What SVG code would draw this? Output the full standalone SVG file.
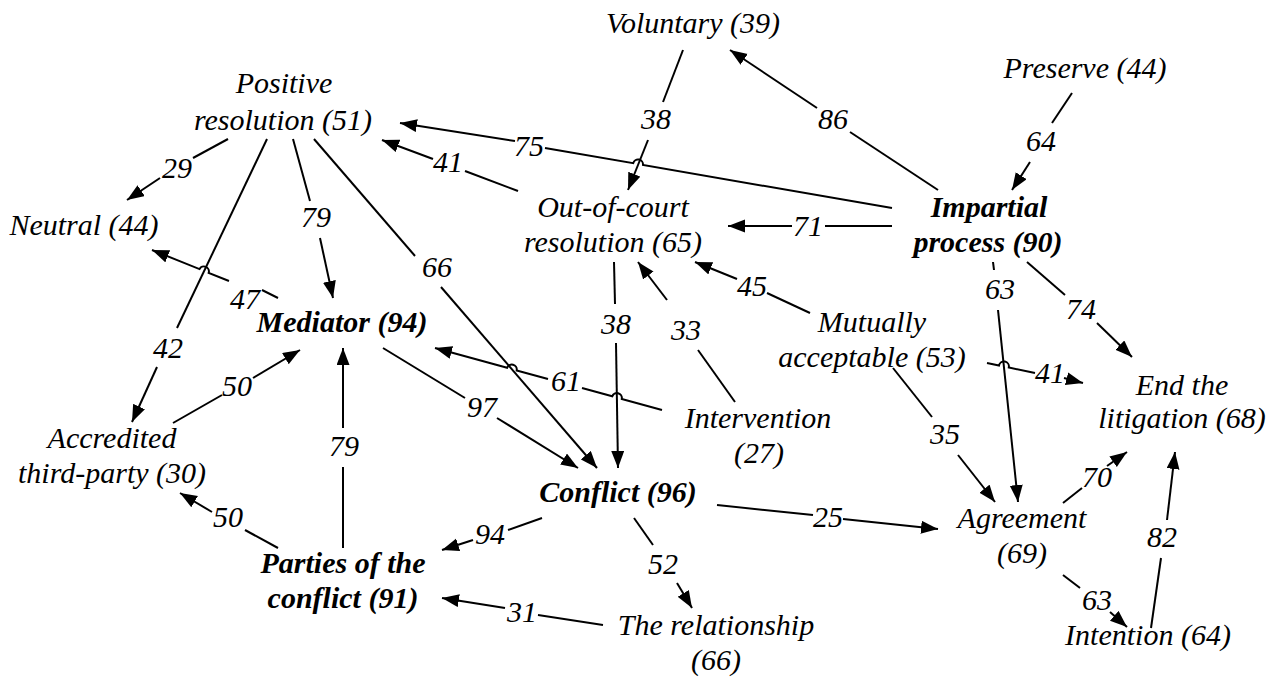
<svg xmlns="http://www.w3.org/2000/svg" width="1274" height="679" viewBox="0 0 1274 679">
<defs>
<marker id="ah" markerUnits="userSpaceOnUse" markerWidth="18" markerHeight="14" refX="17" refY="6.5" orient="auto">
<path d="M0,0 L17,6.5 L0,13 Z" fill="#000"/>
</marker>
<style>
text{font-family:"Liberation Serif","Times New Roman",serif;font-style:italic;font-size:30px;fill:#000;text-anchor:middle}
.b{font-weight:bold}
.e path{fill:none;stroke:#000;stroke-width:2}
.e path.a{marker-end:url(#ah)}
</style>
</defs>
<rect width="1274" height="679" fill="#fff"/>
<g id="connectors" class="e">
<!-- 29 Positive -> Neutral -->
<path d="M228,139 L193,158"/><path class="a" d="M160,178 L127,200"/>
<!-- 42 Positive -> Accredited -->
<path d="M267,139 L177,328"/><path class="a" d="M157,367 L132,422"/>
<!-- 79 Positive -> Mediator -->
<path d="M293,139 L310,201"/><path class="a" d="M320,238 L333,298"/>
<!-- 66 Positive -> Conflict -->
<path d="M314,139 L415,256"/><path class="a" d="M441,287 L597,468"/>
<!-- 47 Mediator -> Neutral -->
<path d="M278,298 L262,290"/><path class="a" d="M229,281 L208.7,272.9 A5,5 0 0 0 199.5,269.1 L152,250"/>
<!-- 75 Impartial -> Positive -->
<path d="M892,208 L643,165 A5,5 0 0 0 633.2,163.2 L545,148"/><path class="a" d="M515,141 L400,123"/>
<!-- 41 Out-of-court -> Positive -->
<path d="M518,191 L465,171"/><path class="a" d="M433,159 L382,140"/>
<!-- 38 Voluntary -> Out-of-court -->
<path d="M683,50 L663,102"/><path class="a" d="M648,140 L628,190"/>
<!-- 86 Impartial -> Voluntary -->
<path d="M938,190 L850,132"/><path class="a" d="M817,108 L730,50"/>
<!-- 64 Preserve -> Impartial -->
<path d="M1072,93 L1052,123"/><path class="a" d="M1030,162 L1012,190"/>
<!-- 71 Impartial -> Out-of-court -->
<path d="M892,226 L825,226"/><path class="a" d="M792,226 L728,226"/>
<!-- 45 Mutually -> Out-of-court -->
<path d="M810,313 L767,293"/><path class="a" d="M737,279 L695,262"/>
<!-- 38 Out-of-court -> Conflict -->
<path d="M614,262 L615,304"/><path class="a" d="M616,343 L618,468"/>
<!-- 33 Intervention -> Out-of-court -->
<path d="M735,402 L698,350"/><path class="a" d="M667,300 L638,262"/>
<!-- 61 Intervention -> Mediator -->
<path d="M662,410 L621.8,398.9 A5,5 0 0 0 612.2,396.3 L582,388"/><path class="a" d="M548,379 L516.7,370.4 A5,5 0 0 0 507.1,367.8 L435,348"/>
<!-- 97 Mediator -> Conflict -->
<path d="M383,348 L465,398"/><path class="a" d="M497,418 L578,468"/>
<!-- 63 Impartial -> Agreement -->
<path d="M993,262 L994,270"/><path class="a" d="M998,310 L1018,502"/>
<!-- 74 Impartial -> End -->
<path d="M1027,262 L1065,295"/><path class="a" d="M1097,323 L1132,357"/>
<!-- 41 Mutually -> End -->
<path d="M987,363 L999,365.5 A5,5 0 0 1 1008.8,367.5 L1035,373"/><path class="a" d="M1064,378 L1083,383"/>
<!-- 35 Mutually -> Agreement -->
<path d="M893,368 L932,417"/><path class="a" d="M958,455 L995,502"/>
<!-- 25 Conflict -> Agreement -->
<path d="M717,505 L813,515"/><path class="a" d="M843,519 L938,529"/>
<!-- 70 Agreement -> End -->
<path d="M1063,503 L1082,488"/><path class="a" d="M1107,466 L1127,452"/>
<!-- 82 Intention -> End -->
<path d="M1151,628 L1161,558"/><path class="a" d="M1167,520 L1175,452"/>
<!-- 63 Agreement -> Intention -->
<path d="M1063,575 L1080,588"/><path class="a" d="M1110,612 L1127,627"/>
<!-- 52 Conflict -> Relationship -->
<path d="M634,518 L653,545"/><path class="a" d="M677,583 L692,608"/>
<!-- 94 Conflict -> Parties -->
<path d="M542,518 L508,530"/><path class="a" d="M473,540 L442,550"/>
<!-- 31 Relationship -> Parties -->
<path d="M603,625 L538,615"/><path class="a" d="M505,608 L442,598"/>
<!-- 50 Accredited -> Mediator -->
<path d="M173,423 L222,395"/><path class="a" d="M253,378 L300,350"/>
<!-- 79 Parties -> Mediator -->
<path d="M343,548 L343,467"/><path class="a" d="M343,428 L343,348"/>
<!-- 50 Parties -> Accredited -->
<path d="M278,548 L245,530"/><path class="a" d="M212,512 L180,493"/>
</g>
<g id="edge-labels">
<text x="177" y="178">29</text>
<text x="168" y="358">42</text>
<text x="316" y="227">79</text>
<text x="437" y="277">66</text>
<text x="245" y="309">47</text>
<text x="529" y="156">75</text>
<text x="448" y="172">41</text>
<text x="656" y="129">38</text>
<text x="833" y="129">86</text>
<text x="1041" y="151">64</text>
<text x="808" y="236">71</text>
<text x="752" y="296">45</text>
<text x="616" y="334">38</text>
<text x="686" y="340">33</text>
<text x="566" y="391">61</text>
<text x="482" y="417">97</text>
<text x="1000" y="299">63</text>
<text x="1081" y="319">74</text>
<text x="1050" y="383">41</text>
<text x="945" y="444">35</text>
<text x="828" y="527">25</text>
<text x="1097" y="487">70</text>
<text x="1162" y="547">82</text>
<text x="1097" y="610">63</text>
<text x="663" y="574">52</text>
<text x="490" y="544">94</text>
<text x="522" y="622">31</text>
<text x="237" y="396">50</text>
<text x="344" y="456">79</text>
<text x="228" y="527">50</text>
</g>
<g id="n-voluntary"><text x="693" y="33">Voluntary (39)</text></g>
<g id="n-preserve"><text x="1085" y="78">Preserve (44)</text></g>
<g id="n-positive"><text x="284" y="93">Positive</text><text x="283" y="130">resolution (51)</text></g>
<g id="n-neutral"><text x="84" y="235">Neutral (44)</text></g>
<g id="n-outofcourt"><text x="613" y="217">Out-of-court</text><text x="613" y="252">resolution (65)</text></g>
<g id="n-impartial"><text class="b" x="989" y="217">Impartial</text><text class="b" x="988" y="252">process (90)</text></g>
<g id="n-mediator"><text class="b" x="342" y="332">Mediator (94)</text></g>
<g id="n-mutually"><text x="872" y="332">Mutually</text><text x="872" y="367">acceptable (53)</text></g>
<g id="n-end"><text x="1182" y="395">End the</text><text x="1182" y="428">litigation (68)</text></g>
<g id="n-accredited"><text x="112" y="448">Accredited</text><text x="112" y="483">third-party (30)</text></g>
<g id="n-intervention"><text x="758" y="428">Intervention</text><text x="759" y="463">(27)</text></g>
<g id="n-conflict"><text class="b" x="618" y="502">Conflict (96)</text></g>
<g id="n-agreement"><text x="1022" y="528">Agreement</text><text x="1022" y="563">(69)</text></g>
<g id="n-parties"><text class="b" x="343" y="573">Parties of the</text><text class="b" x="343" y="608">conflict (91)</text></g>
<g id="n-relationship"><text x="716" y="635">The relationship</text><text x="716" y="670">(66)</text></g>
<g id="n-intention"><text x="1148" y="645">Intention (64)</text></g>
</svg>
